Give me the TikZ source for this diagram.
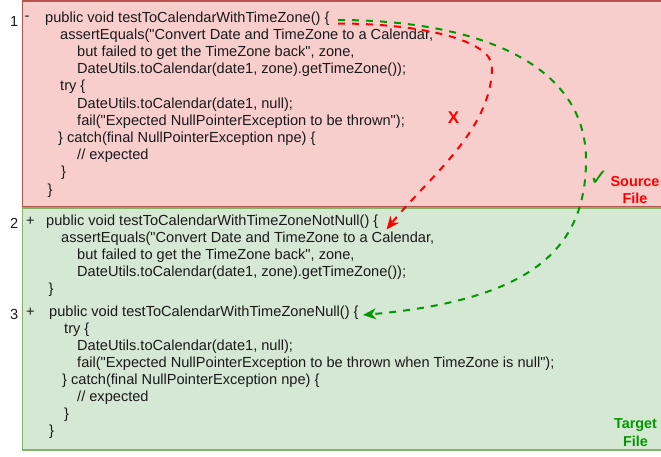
\documentclass[tikz,border=0pt]{standalone}
\usepackage{fontspec}
\setmainfont{Liberation Sans}[Ligatures=TeXOff]
\newfontfamily\djv{DejaVu Sans}[Ligatures=TeXOff]
\usetikzlibrary{arrows.meta}
\definecolor{srcfill}{HTML}{F8CECC}
\definecolor{srcline}{HTML}{B85450}
\definecolor{tgtfill}{HTML}{D5E8D4}
\definecolor{tgtline}{HTML}{82B366}
\definecolor{okgreen}{HTML}{009900}
\definecolor{badred}{HTML}{FF0000}
\definecolor{codetext}{HTML}{1A1A1A}
\begin{document}
\begin{tikzpicture}[x=1pt,y=-1pt,
  code/.style={anchor=base west,inner sep=0pt,font=\fontsize{14.6}{17}\selectfont,text=codetext},
  lbl/.style={anchor=base,inner sep=0pt,font=\bfseries\fontsize{14.4}{17}\selectfont},
  flow/.style={line width=2pt,dash pattern=on 7pt off 7pt,-{Stealth[length=13pt,width=11pt,inset=4pt]}}]
\useasboundingbox (0,0) rectangle (661,456);
% panels
\path[fill=tgtfill,draw=tgtline,line width=1.2pt] (22.5,208) rectangle (680,450);
\path[fill=srcfill,draw=srcline,line width=1.2pt] (22.5,1) rectangle (680,206.5);
% source code
\node[code] (n1) at (10,26) {1};
\node[code] (m1) at (24.5,20.5) {-};
\node[code] (r1) at (45,22) {public void testToCalendarWithTimeZone() \{};
\node[code] (r2) at (60,39.2) {assertEquals("Convert Date and TimeZone to a Calendar,};
\node[code] (r3) at (77,56.4) {but failed to get the TimeZone back", zone,};
\node[code] (r4) at (77,73.6) {DateUtils.toCalendar(date1, zone).getTimeZone());};
\node[code] (r5) at (60,90.8) {try \{};
\node[code] (r6) at (77,108) {DateUtils.toCalendar(date1, null);};
\node[code] (r7) at (77,125.2) {fail("Expected NullPointerException to be thrown");};
\node[code] (r8) at (58,142.4) {\} catch(final NullPointerException npe) \{};
\node[code] (r9) at (77,159.6) {// expected};
\node[code] (r10) at (61,176.8) {\}};
\node[code] (r11) at (47.5,194) {\}};
% target code
\node[code] (n2) at (10,228) {2};
\node[code] (p2) at (26,225) {+};
\node[code] (g1) at (46,225) {public void testToCalendarWithTimeZoneNotNull() \{};
\node[code] (g2) at (61,242) {assertEquals("Convert Date and TimeZone to a Calendar,};
\node[code] (g3) at (77,259) {but failed to get the TimeZone back", zone,};
\node[code] (g4) at (77,276) {DateUtils.toCalendar(date1, zone).getTimeZone());};
\node[code] (g5) at (48.5,293) {\}};
\node[code] (n3) at (10,319) {3};
\node[code] (p3) at (26,316) {+};
\node[code] (h1) at (49,316) {public void testToCalendarWithTimeZoneNull() \{};
\node[code] (h2) at (64,333) {try \{};
\node[code] (h3) at (77,350) {DateUtils.toCalendar(date1, null);};
\node[code] (h4) at (77,367) {fail("Expected NullPointerException to be thrown when TimeZone is null");};
\node[code] (h5) at (62,384) {\} catch(final NullPointerException npe) \{};
\node[code] (h6) at (77,401) {// expected};
\node[code] (h7) at (64,418) {\}};
\node[code] (h8) at (49,435) {\}};
% labels
\node[lbl,text=badred] (src1) at (635,186.5) {Source};
\node[lbl,text=badred] (src2) at (635,203) {File};
\node[lbl,text=okgreen] (tgt1) at (635.5,428) {Target};
\node[lbl,text=okgreen] (tgt2) at (635.5,446) {File};
\node[text=okgreen,font=\djv\bfseries\fontsize{23}{23}\selectfont,inner sep=0pt] (ok) at (599,178) {✓};
\node[text=badred,font=\bfseries\fontsize{17}{17}\selectfont,inner sep=0pt] (bad) at (453.5,118) {X};
% connectors
\coordinate (gs) at (338,20);
\coordinate (rs) at (338,23.5);
\coordinate (gapex) at (586,160);
\coordinate (rapex) at (492,67);
\coordinate (gend) at (363,315);
\coordinate (rend) at (386.5,229.5);
\draw[flow,okgreen] (gs) .. controls (470,20) and (586,60) .. (gapex)
  .. controls (586,250) and (530,300) .. (gend);
\draw[flow,badred] (rs) .. controls (420,23.5) and (492,40) .. (rapex)
  .. controls (492,130) and (428,178) .. (rend);
\end{tikzpicture}
\end{document}
